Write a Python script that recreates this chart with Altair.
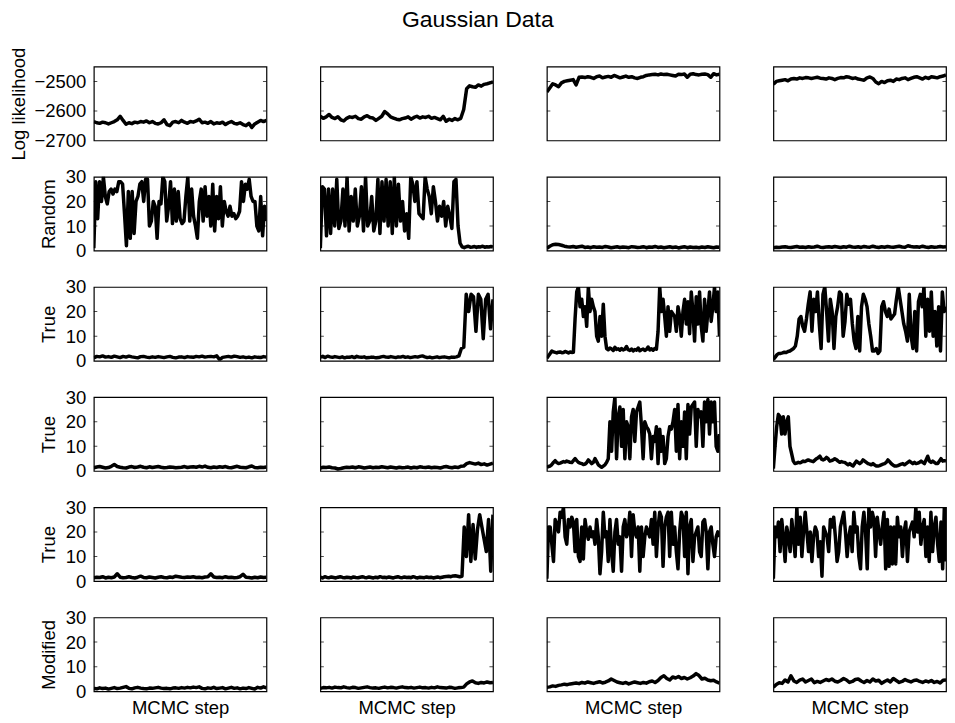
import altair as alt
import pandas as pd

FONT = "Liberation Sans"

row_titles = ["Log likelihood", "Random", "True", "True", "True", "Modified"]
loglik_domain = [-2700, -2450]
count_domain = [0, 30]
loglik_ticks = [-2700, -2600, -2500]
count_ticks = [0, 10, 20, 30]

# ---- Row 1: log likelihood ----
ll_1 = [-2636, -2640, -2642, -2638, -2640, -2644, -2640, -2636, -2630, -2618, -2632, -2645, -2640, -2643, -2638,
        -2640, -2636, -2638, -2634, -2640, -2636, -2642, -2644, -2640, -2630, -2646, -2650, -2638, -2636, -2640,
        -2632, -2638, -2642, -2636, -2638, -2634, -2628, -2640, -2638, -2642, -2636, -2644, -2640, -2642, -2638,
        -2646, -2640, -2636, -2642, -2644, -2640, -2646, -2650, -2642, -2656, -2644, -2638, -2632, -2636, -2632]
ll_2 = [-2618, -2625, -2620, -2612, -2622, -2626, -2620, -2630, -2634, -2625, -2620, -2622, -2618, -2626, -2628,
        -2620, -2616, -2622, -2624, -2632, -2625, -2618, -2602, -2610, -2620, -2624, -2628, -2630, -2626, -2624,
        -2620, -2628, -2622, -2618, -2624, -2620, -2622, -2618, -2625, -2622, -2626, -2630, -2618, -2635, -2628,
        -2632, -2626, -2630, -2625, -2595, -2525, -2515, -2518, -2520, -2512, -2516, -2510, -2508, -2505, -2502]
ll_3 = [-2536, -2522, -2508, -2512, -2518, -2505, -2500, -2498, -2496, -2494, -2512, -2486, -2485, -2487, -2484,
        -2486, -2490, -2484, -2482, -2488, -2485, -2483, -2486, -2480, -2484, -2488, -2485, -2482, -2486, -2484,
        -2488, -2490, -2486, -2484, -2480, -2478, -2477, -2476, -2478, -2475, -2477, -2476, -2478, -2480, -2482,
        -2476, -2477, -2475, -2486, -2476, -2474, -2477, -2478, -2476, -2475, -2477, -2486, -2474, -2478, -2476]
ll_4 = [-2510, -2500, -2498, -2496, -2494, -2498, -2492, -2490, -2492, -2488, -2490, -2487, -2488, -2490, -2488,
        -2486, -2489, -2490, -2492, -2488, -2490, -2494, -2490, -2487, -2488, -2484, -2486, -2490, -2488, -2492,
        -2494, -2496, -2488, -2485, -2490, -2502, -2508, -2500, -2504, -2498, -2496, -2500, -2492, -2494, -2490,
        -2488, -2494, -2490, -2486, -2484, -2488, -2492, -2486, -2490, -2484, -2486, -2488, -2484, -2482, -2478]

# ---- Row 2: Random ----
rnd_1 = [1, 28, 13, 28, 20, 30, 22, 19, 24, 25, 23, 25, 24, 28, 28, 27, 15, 2, 24, 5, 24, 7, 20, 22, 27, 28, 20,
         29, 29, 10, 12, 20, 18, 5, 20, 19, 30, 28, 12, 18, 28, 11, 25, 12, 24, 13, 11, 12, 22, 30, 12, 25, 14,
         10, 5, 20, 25, 12, 26, 14, 22, 10, 27, 8, 22, 13, 26, 10, 20, 16, 14, 18, 14, 15, 13, 14, 16, 28, 20,
         27, 25, 29, 22, 20, 20, 10, 8, 22, 6, 18, 12]
rnd_2 = [1, 26, 25, 6, 25, 7, 25, 10, 29, 9, 12, 25, 10, 30, 8, 22, 12, 25, 10, 14, 26, 8, 30, 10, 12, 22, 8, 12,
         29, 7, 28, 12, 29, 10, 28, 7, 30, 10, 27, 12, 20, 8, 15, 5, 30, 27, 20, 28, 15, 14, 13, 30, 25, 22, 15,
         26, 20, 12, 18, 14, 20, 10, 18, 14, 9, 28, 29, 10, 3,
         1.5, 1.2, 1.6, 1.8, 1.4, 1.5, 1.7, 1.3, 1.6, 1.5, 1.8, 1.4, 1.6, 1.5, 1.7, 1.4]
rnd_3 = [1.0, 1.8, 2.4, 2.6, 2.5, 2.2, 1.8, 1.6, 1.5, 1.7, 1.4, 1.6, 1.8, 1.3, 1.5, 1.2, 1.6, 1.4, 1.5, 1.3, 1.7,
         1.5, 1.2, 1.4, 1.6, 1.3, 1.5, 1.4, 1.2, 1.6, 1.5, 1.3, 1.4, 1.6, 1.2, 1.5, 1.4, 1.7, 1.3, 1.5, 1.2, 1.4,
         1.6, 1.3, 1.5, 1.1, 1.4, 1.6, 1.2, 1.5, 1.3, 1.4, 1.2, 1.5, 1.3, 1.6, 1.4, 1.2, 1.5, 1.4]
rnd_4 = [1.2, 1.4, 1.3, 1.5, 1.6, 1.4, 1.3, 1.5, 1.7, 1.4, 1.5, 1.3, 1.6, 1.4, 1.5, 1.8, 1.4, 1.3, 1.5, 1.6, 1.4,
         1.7, 1.5, 1.3, 1.6, 1.4, 1.8, 1.5, 1.4, 1.6, 1.3, 1.7, 1.5, 1.4, 1.8, 1.5, 1.3, 1.6, 1.4, 1.7, 1.5, 1.4,
         1.6, 1.8, 1.5, 1.4, 2.0, 1.7, 1.5, 1.6, 1.4, 1.8, 1.5, 1.3, 1.6, 1.4, 1.5, 1.7, 1.5, 1.6]

# ---- Row 3: True ----
tr1_1 = [1.2, 1.8, 1.6, 2.0, 1.5, 1.7, 1.4, 1.9, 1.6, 1.3, 1.8, 1.5, 1.9, 1.6, 1.4, 1.2, 1.7, 1.8, 1.5, 1.3, 1.6,
         1.4, 1.7, 1.5, 1.3, 1.6, 1.8, 1.4, 1.2, 1.5, 1.6, 1.3, 1.7, 1.5, 1.4, 1.8, 1.6, 1.9, 1.5, 1.7, 1.8, 1.6,
         2.0, 0.5, 1.4, 1.6, 1.8, 1.5, 1.9, 1.7, 1.4, 1.6, 1.3, 1.5, 1.2, 1.6, 1.4, 1.3, 1.7, 1.5]
tr1_2 = [1.5, 1.8, 1.3, 1.9, 1.6, 1.4, 1.7, 1.5, 1.3, 1.6, 1.2, 1.5, 1.4, 1.7, 1.3, 1.8, 1.5, 1.4, 1.6, 1.2, 1.3,
         1.5, 1.4, 1.2, 1.3, 1.6, 1.8, 1.5, 1.4, 1.7, 1.5, 1.3, 1.6, 1.5, 1.8, 1.4, 1.6, 1.3, 1.5, 1.7, 1.5, 1.8,
         2.0, 1.6, 1.3, 1.5, 1.2, 1.4, 1.6, 1.3, 1.5, 1.6, 1.4, 1.2, 1.5, 1.4, 1.6,
         2.0, 5.0, 5.5, 27, 20, 27, 26, 12, 27, 25, 9, 25, 27, 13, 25]
tr1_3 = [1, 2, 3, 4, 3.6, 3.4, 3.2, 3.5, 3.6, 3.3, 3.4, 3.8, 3.5, 3.2, 3.6, 3.4, 3.5,
         17, 28, 30, 22, 25, 18, 22, 14, 30, 20, 25, 22, 20, 10, 8, 18, 10, 23, 10, 5,
         4.5, 5.2, 4.8, 4.2, 5.5, 4.6, 4.9, 4.3, 5.0, 4.4, 4.7, 5.8, 4.5, 4.2, 4.8, 4.0, 4.6, 4.3, 5.2, 4.1,
         4.5, 4.8, 4.2, 4.6, 5.6, 4.4, 4.9, 4.3, 5.0, 4.7,
         12, 30, 20, 25, 18, 10, 22, 12, 20, 19, 18, 12, 22, 18, 10, 20, 25, 15, 24, 11, 28, 20, 8, 26, 15,
         28, 14, 8, 25, 12, 20, 28, 16, 22, 30, 20, 28, 10]
tr1_4 = [0.5, 1.5, 2.5, 3, 3, 3.2, 3.5, 3.4, 3.8, 4, 4.5, 5, 6, 10, 17, 18, 14, 12, 17, 23, 28, 12, 25, 20, 28, 15,
         5, 27, 30, 20, 8, 25, 20, 5, 18, 22, 28, 27, 10, 16, 27, 23, 25, 15, 8, 5, 18, 4, 22, 27, 25, 22, 15, 10,
         4, 4, 5, 3, 4, 22, 24, 20, 18, 21, 17, 18, 19, 25, 30, 25, 20, 15, 12, 8, 27, 10, 5, 20, 4, 24, 27, 22,
         30, 10, 25, 12, 28, 10, 20, 6, 22, 4, 28, 20, 22]

# ---- Row 4: True ----
tr2_1 = [1.3, 1.6, 1.8, 1.5, 1.2, 1.4, 1.9, 2.6, 1.8, 1.5, 1.3, 1.2, 1.6, 1.8, 1.4, 1.6, 1.9, 1.5, 1.3, 1.7, 1.4,
         1.6, 1.8, 1.5, 1.3, 1.4, 1.6, 1.5, 1.3, 1.4, 1.5, 1.8, 1.4, 1.6, 1.7, 1.5, 1.9, 1.6, 2.0, 1.5, 1.3, 1.6,
         1.4, 1.7, 1.5, 1.8, 1.4, 1.3, 1.6, 1.9, 1.5, 1.4, 1.3, 1.7, 2.0, 1.4, 1.3, 1.5, 1.4, 1.6]
tr2_2 = [1.2, 1.5, 1.4, 1.6, 1.3, 1.2, 0.8, 1.0, 1.3, 1.5, 1.4, 1.6, 1.3, 1.7, 1.5, 1.2, 1.4, 1.6, 1.3, 1.5, 1.4,
         1.7, 1.5, 1.3, 1.6, 1.4, 1.2, 1.5, 1.3, 1.4, 1.6, 1.2, 1.5, 1.3, 1.7, 1.5, 1.4, 1.6, 1.3, 1.5, 1.4, 1.2,
         1.6, 1.8, 1.5, 1.3, 1.6, 1.4, 1.9, 2.0, 3.0, 3.4, 3.1, 2.8, 3.2, 2.6, 2.9, 2.4, 2.8, 3.2]
tr2_3 = [1.5, 1.8, 2.0, 2.6, 3.5, 4.2, 3.4, 3.0, 3.2, 3.5, 3.8, 3.6, 4.0, 3.8, 3.5, 3.4, 4.2, 5.0, 4.2, 3.5, 3.2,
         3.0, 2.6, 2.8, 3.4, 4.5, 3.8, 3.0, 3.5, 5.0, 3.8, 2.5, 2.0, 1.5, 2.0, 2.5, 3.5, 5.0,
         20, 8, 24, 30, 5, 22, 26, 10, 25, 5, 20, 18, 5, 22, 25, 12, 24, 26, 28, 18, 5, 20, 18, 17, 15, 5, 14,
         12, 18, 3, 17, 8, 14, 3, 5, 14, 18, 17, 20, 25, 8, 27, 5, 20, 10, 24, 5, 27, 15, 26, 27, 28, 10, 25,
         22, 24, 10, 28, 20, 29, 15, 28, 20, 28, 10, 8, 15]
tr2_4 = [1, 10, 18, 23, 22, 15, 22, 15, 20, 22, 10, 7, 4, 3, 3.2, 3.5, 3.3, 3.6, 4, 3.8, 4.2, 4.5, 4.2, 4, 3.8, 4.4,
         5, 5.4, 6, 4.8, 4.5, 4.8, 5.5, 5, 4, 4.2, 4.5, 5, 4.6, 4, 3.5, 3.8, 3.6, 3.5, 3, 2.5, 3, 2.4, 2, 3, 4,
         3.5, 3, 3.5, 4.5, 4, 3.5, 3, 2.8, 2.5, 3, 2.4, 2, 2, 2.2, 2.5, 2.8, 3, 3.5, 4.5, 3.8, 3, 2.4, 2, 2, 2.2,
         2.5, 2.8, 3, 2.5, 3, 3.5, 4, 3.5, 3, 3.5, 3, 3.2, 3.5, 4, 3.5, 3, 4.5, 6, 4, 3.5, 4, 3.5, 3, 3, 4, 5,
         4, 4.2, 4]

# ---- Row 5: True ----
tr3_1 = [1.4, 1.6, 1.5, 1.8, 1.3, 1.6, 1.4, 1.7, 3.0, 1.6, 1.4, 1.5, 1.8, 1.5, 1.3, 1.6, 2.0, 1.5, 1.4, 1.7, 1.5,
         1.3, 1.6, 1.8, 1.5, 1.4, 1.7, 1.5, 2.0, 1.8, 1.6, 1.5, 1.7, 1.6, 1.8, 1.5, 1.6, 1.4, 1.7, 1.8, 3.0, 1.7,
         1.5, 1.6, 1.4, 1.8, 1.5, 1.6, 1.4, 1.5, 1.8, 2.8, 1.6, 1.5, 1.3, 1.6, 1.4, 1.7, 1.5, 1.6]
tr3_2 = [1.6, 1.3, 1.8, 1.5, 1.4, 1.7, 1.5, 1.3, 1.6, 1.8, 1.5, 1.4, 1.6, 1.5, 1.3, 1.7, 1.5, 1.4, 1.6, 1.8, 1.5,
         1.4, 1.7, 1.5, 1.3, 1.6, 1.4, 1.8, 1.5, 1.6, 1.4, 1.7, 1.5, 1.3, 1.6, 1.8, 1.5, 1.4, 1.7, 1.5, 1.6, 1.4,
         1.8, 1.5, 1.3, 1.6, 1.5, 1.4, 1.7, 1.5, 1.6, 1.3, 1.5, 1.7, 1.4, 1.6, 1.8, 1.9, 2.0, 1.8, 2.1, 2.2, 2.0,
         1.8,
         2, 22, 10, 27, 8, 23, 9, 21, 27, 22, 17, 12, 25, 4, 27]
tr3_3 = [1, 22, 22, 15, 8, 25, 23, 20, 28, 26, 30, 18, 15, 25, 22, 26, 24, 12, 25, 10, 8, 22, 9, 25, 20, 17, 22,
         18, 20, 15, 25, 18, 3, 12, 28, 18, 20, 8, 25, 12, 4, 20, 25, 15, 18, 4, 22, 25, 18, 20, 28, 10, 27, 20,
         18, 22, 4, 22, 10, 18, 22, 20, 18, 25, 15, 28, 10, 22, 28, 26, 6, 22, 26, 28, 10, 28, 15, 22, 12, 5, 20,
         28, 26, 10, 28, 3, 22, 25, 8, 18, 20, 22, 12, 10, 24, 25, 20, 5, 20, 22, 15, 10, 18, 20, 18]
tr3_4 = [1, 22, 18, 24, 12, 25, 18, 8, 22, 18, 12, 25, 18, 10, 30, 15, 26, 10, 20, 28, 20, 12, 20, 8, 18, 22, 20,
         10, 16, 2, 22, 20, 18, 12, 25, 22, 26, 18, 8, 12, 22, 25, 28, 20, 10, 18, 22, 12, 28, 20, 22, 10, 5, 22,
         28, 20, 5, 30, 22, 28, 25, 10, 26, 20, 15, 22, 28, 5, 25, 6, 22, 7, 22, 7, 26, 18, 22, 10, 20, 24, 8, 20,
         22, 24, 18, 30, 20, 28, 15, 22, 25, 10, 22, 8, 28, 12, 22, 26, 15, 8, 24, 5, 30, 8]

# ---- Row 6: Modified ----
mod_1 = [1.2, 1.0, 1.4, 1.1, 1.3, 0.9, 1.2, 1.5, 1.1, 1.3, 1.6, 1.9, 1.2, 1.0, 1.4, 1.6, 1.3, 1.1, 1.0, 1.3, 1.2,
         1.4, 1.6, 1.3, 1.1, 1.2, 1.0, 1.3, 1.4, 1.2, 1.5, 1.3, 1.6, 1.4, 1.7, 1.5, 1.8, 1.2, 1.0, 1.4, 1.2, 1.6,
         1.1, 1.3, 1.5, 1.0, 1.3, 1.6, 1.2, 1.4, 1.0, 1.3, 1.1, 1.5, 1.2, 0.9, 1.6, 1.3, 1.8, 1.4]
mod_2 = [1.2, 1.5, 1.4, 1.6, 1.3, 1.7, 1.5, 1.4, 1.8, 1.5, 1.3, 1.6, 1.5, 1.2, 1.4, 1.6, 1.8, 1.5, 1.3, 1.4, 1.2,
         1.5, 1.7, 1.4, 1.6, 1.5, 1.3, 1.6, 1.8, 1.5, 1.4, 1.6, 1.3, 1.5, 1.7, 1.4, 1.5, 1.3, 1.6, 1.4, 1.8, 1.5,
         1.4, 1.3, 1.6, 1.5, 1.2, 1.4, 1.5, 1.7, 3.0, 3.8, 4.2, 3.5, 3.2, 3.6, 3.4, 3.8, 3.5, 3.6]
mod_3 = [1.6, 1.8, 2.2, 2.0, 2.4, 2.6, 2.9, 2.7, 3.0, 3.2, 3.4, 3.1, 3.6, 3.3, 3.8, 3.5, 3.2, 3.6, 3.9, 3.4, 3.7,
         4.2, 5.0, 4.4, 3.8, 3.5, 3.2, 3.6, 3.0, 3.4, 3.8, 3.5, 3.2, 3.6, 3.3, 3.9, 4.2, 3.6, 4.4, 5.6, 6.3, 5.2,
         4.6, 5.8, 5.4, 6.0, 5.2, 5.6, 5.0, 5.5, 6.2, 7.2, 6.4, 5.0, 5.3, 4.6, 4.3, 4.5, 3.8, 3.3]
mod_4 = [1.6, 2.8, 3.5, 3.2, 4.6, 3.8, 6.3, 4.2, 3.6, 4.5, 5.0, 3.8, 4.4, 5.0, 3.5, 4.0, 3.6, 4.2, 4.8, 4.4, 5.0,
         4.1, 3.8, 4.4, 5.2, 4.6, 3.6, 4.0, 4.8, 5.0, 4.2, 3.6, 4.4, 3.8, 5.0, 4.2, 4.5, 3.2, 4.0, 4.6, 3.8, 5.2,
         4.4, 3.6, 4.0, 4.8, 4.2, 3.8, 4.4, 4.6, 4.0, 3.6, 4.2, 3.8, 4.4, 3.6, 4.0, 3.4, 4.5, 4.6]

series = [
    [ll_1, ll_2, ll_3, ll_4],
    [rnd_1, rnd_2, rnd_3, rnd_4],
    [tr1_1, tr1_2, tr1_3, tr1_4],
    [tr2_1, tr2_2, tr2_3, tr2_4],
    [tr3_1, tr3_2, tr3_3, tr3_4],
    [mod_1, mod_2, mod_3, mod_4],
]

PW, PH = 173, 74
AXIS_FS = 18.5


def panel(r, c):
    vals = series[r][c]
    n = len(vals)
    df = pd.DataFrame({"step": list(range(n)), "value": vals})
    dom = loglik_domain if r == 0 else count_domain
    tvals = loglik_ticks if r == 0 else count_ticks
    xs = alt.Scale(domain=[0, n - 1], nice=False, zero=False)
    ys = alt.Scale(domain=dom, nice=False, zero=False)

    if r == 5:
        xaxis = alt.Axis(title="MCMC step", labels=False, ticks=False, domain=False, grid=False,
                         tickSize=0, titlePadding=7, minExtent=0)
    else:
        xaxis = None
    if c == 0:
        yaxis = alt.Axis(title=row_titles[r], values=tvals, format="d", grid=False, domain=False,
                         ticks=False, tickSize=0, labelPadding=8, labelOverlap=False,
                         titlePadding=5.5 if r == 0 else 6.5)
    else:
        yaxis = None

    line = alt.Chart(df).mark_line(color="black", strokeWidth=3.5, strokeJoin="round", clip=True).encode(
        x=alt.X("step:Q", scale=xs, axis=xaxis),
        y=alt.Y("value:Q", scale=ys, axis=yaxis),
    )
    inner = [v for v in tvals if dom[0] < v < dom[1]]
    tdf = pd.DataFrame({"tick": inner, "lo": [0] * len(inner), "hi": [n - 1] * len(inner)})
    tick_l = alt.Chart(tdf).mark_tick(orient="horizontal", size=7, thickness=1, color="black", clip=True).encode(
        x=alt.X("lo:Q", scale=xs, axis=xaxis), y=alt.Y("tick:Q", scale=ys, axis=yaxis))
    tick_r = alt.Chart(tdf).mark_tick(orient="horizontal", size=7, thickness=1, color="black", clip=True).encode(
        x=alt.X("hi:Q", scale=xs, axis=xaxis), y=alt.Y("tick:Q", scale=ys, axis=yaxis))
    return alt.layer(line, tick_l, tick_r).properties(width=PW, height=PH)


panels = [panel(r, c) for r in range(6) for c in range(4)]

chart = alt.concat(
    *panels, columns=4, spacing={"row": 36.4, "column": 54.0}, bounds="flush",
).properties(
    title=alt.TitleParams("Gaussian Data", fontSize=23, fontWeight="normal", font=FONT, color="black",
                          anchor="middle", offset=14.5),
    padding={"left": 0, "top": 0, "right": 0, "bottom": 0},
).configure(font=FONT).configure_view(
    stroke="black", strokeWidth=1.2
).configure_axis(
    labelFont=FONT, titleFont=FONT, labelFontSize=AXIS_FS, titleFontSize=AXIS_FS,
    titleFontWeight="normal", labelColor="black", titleColor="black",
)

chart.save("out.html", embed_options={"renderer": "svg", "actions": False})
